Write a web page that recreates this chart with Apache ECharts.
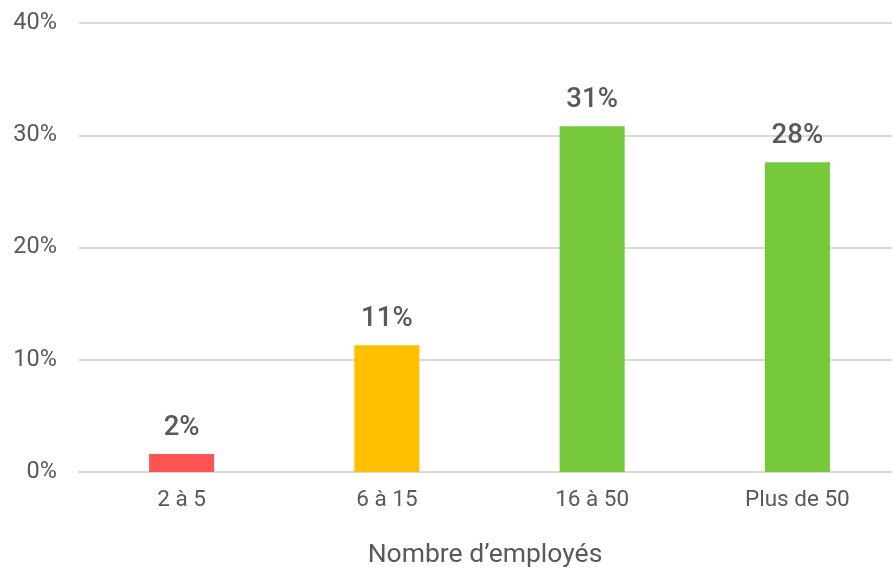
<!DOCTYPE html>
<html>
<head>
<meta charset="utf-8">
<script src="https://cdn.jsdelivr.net/npm/echarts@6/dist/echarts.min.js"></script>
<style>html,body{margin:0;padding:0;background:#fff;}#c{width:892px;height:569px;}</style>
</head>
<body>
<div id="c"></div>
<script>
const categories = ['2 à 5', '6 à 15', '16 à 50', 'Plus de 50'];
const values = [1.6, 11.3, 30.8, 27.6];
const barColors = ['#FF5252', '#FFC000', '#76C93A', '#76C93A'];
const yTicks = [0, 10, 20, 30, 40];
const axisTitle = 'Nombre d’employés';

const chart = echarts.init(document.getElementById('c'), null, {renderer: 'canvas'});
chart.setOption({
  animation: false,
  backgroundColor: '#fff',
  grid: {left: 79, width: 821, top: 23, bottom: 97, containLabel: false, outerBoundsMode: 'none'},
  xAxis: {
    type: 'category',
    data: categories,
    name: axisTitle,
    nameLocation: 'middle',
    nameGap: 70,
    nameTextStyle: {fontFamily: 'Roboto', fontSize: 26.5, color: '#595959', padding: [0, 9, 0, 0]},
    axisLine: {show: true, lineStyle: {color: '#d9d9d9', width: 2}},
    axisTick: {show: false},
    axisLabel: {fontFamily: 'Roboto', fontSize: 22.5, color: '#595959', margin: 17}
  },
  yAxis: {
    type: 'value',
    min: yTicks[0],
    max: yTicks[yTicks.length - 1],
    interval: 10,
    axisLine: {show: false},
    axisTick: {show: false},
    splitLine: {lineStyle: {color: '#d9d9d9', width: 2}},
    axisLabel: {fontFamily: 'Roboto', fontSize: 23.5, color: '#595959', margin: 22, formatter: v => v + '%'}
  },
  series: [{
    type: 'bar',
    data: values.map((v, i) => ({value: v, itemStyle: {color: barColors[i]}})),
    barWidth: '31.7%',
    label: {
      show: true,
      position: 'top',
      distance: 12,
      fontFamily: 'Roboto',
      fontSize: 27.5,
      fontWeight: 500,
      color: '#595959',
      formatter: p => Math.round(p.value) + '%'
    }
  }]
});
</script>
</body>
</html>
